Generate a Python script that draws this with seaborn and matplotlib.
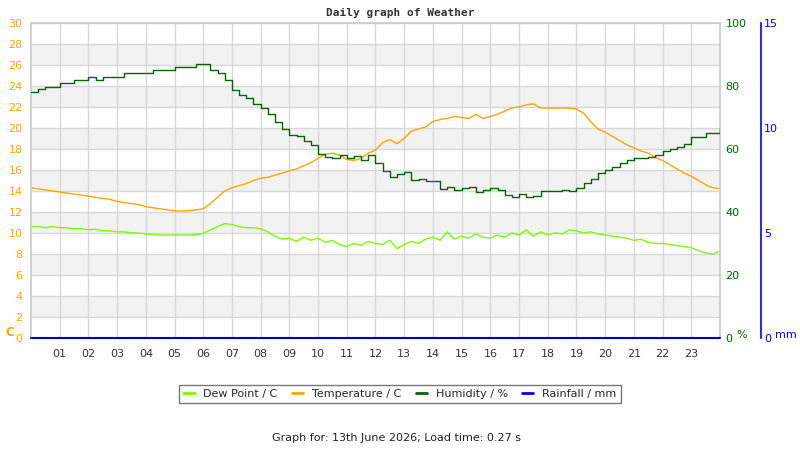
import numpy as np
import pandas as pd
import matplotlib
matplotlib.use('Agg')
import matplotlib.pyplot as plt
import seaborn as sns

# %%
# readings every 15 minutes, 00:00 to 24:00
hours = np.arange(97) / 4

temperature = [14.3, 14.2, 14.1, 14.0, 13.9, 13.8, 13.7, 13.6, 13.5, 13.4, 13.3, 13.2,
               13.0, 12.9, 12.8, 12.7, 12.5, 12.4, 12.3, 12.2, 12.1, 12.1, 12.1, 12.2,
               12.3, 12.8, 13.4, 14.0, 14.3, 14.5, 14.7, 15.0, 15.2, 15.3, 15.5, 15.7,
               15.9, 16.1, 16.4, 16.7, 17.1, 17.5, 17.6, 17.4, 17.0, 16.9, 17.1, 17.6,
               17.9, 18.6, 18.9, 18.5, 19.0, 19.7, 19.9, 20.1, 20.6, 20.8, 20.9, 21.1,
               21.0, 20.9, 21.3, 20.9, 21.1, 21.3, 21.6, 21.9, 22.0, 22.2, 22.3, 21.9,
               21.9, 21.9, 21.9, 21.9, 21.8, 21.4, 20.6, 19.9, 19.6, 19.2, 18.8, 18.4,
               18.1, 17.8, 17.6, 17.2, 16.9, 16.5, 16.1, 15.7, 15.4, 15.0, 14.6, 14.3,
               14.2]

dew_point = [10.6, 10.6, 10.5, 10.6, 10.5, 10.5, 10.4, 10.4, 10.3, 10.35, 10.2, 10.2,
             10.1, 10.1, 10.0, 10.0, 9.9, 9.85, 9.8, 9.8, 9.8, 9.8, 9.8, 9.85,
             9.95, 10.3, 10.6, 10.9, 10.8, 10.6, 10.5, 10.5, 10.4, 10.1, 9.7, 9.4,
             9.5, 9.2, 9.6, 9.3, 9.5, 9.1, 9.3, 8.9, 8.7, 9.0, 8.8, 9.2,
             9.0, 8.9, 9.3, 8.5, 8.9, 9.2, 9.0, 9.4, 9.6, 9.3, 10.1, 9.4,
             9.7, 9.5, 9.9, 9.6, 9.5, 9.8, 9.6, 10.0, 9.8, 10.3, 9.7, 10.1,
             9.8, 10.0, 9.9, 10.3, 10.2, 10.0, 10.1, 9.9, 9.8, 9.7, 9.6, 9.5,
             9.3, 9.4, 9.1, 9.0, 9.0, 8.9, 8.8, 8.7, 8.6, 8.3, 8.1, 8.0,
             8.3]

humidity = [78.0, 79.0, 79.8, 79.8, 80.9, 80.9, 81.9, 81.9, 82.9, 81.9, 82.9, 82.9,
            82.9, 84.0, 84.0, 84.0, 84.0, 85.1, 85.1, 85.1, 85.9, 85.9, 85.9, 86.9,
            86.9, 85.1, 84.0, 81.9, 78.7, 77.1, 76.1, 74.2, 73.1, 71.0, 68.5, 66.2,
            64.4, 64.0, 62.4, 61.3, 58.5, 57.6, 57.0, 58.1, 57.0, 57.8, 56.5, 58.1,
            55.4, 53.0, 51.2, 51.9, 52.8, 50.2, 50.6, 49.9, 49.9, 47.2, 48.0, 47.0,
            47.6, 48.0, 46.4, 47.0, 47.5, 47.0, 45.4, 44.8, 45.6, 44.6, 45.1, 46.8,
            46.8, 46.8, 47.0, 46.8, 47.5, 49.3, 50.6, 52.4, 53.3, 54.2, 55.6, 56.5,
            57.0, 57.0, 57.6, 58.1, 59.5, 60.0, 60.7, 61.5, 63.9, 63.9, 65.0, 65.0,
            66.5]

rain_hours = [0, 24]
rainfall = [0.0, 0.0]

hour_ticks = list(range(1, 24))
hour_labels = ['%02d' % h for h in hour_ticks]

# %%
df = pd.DataFrame({'hour': hours, 'temp': temperature, 'dew': dew_point, 'hum': humidity})
rain = pd.DataFrame({'hour': rain_hours, 'rain': rainfall})

colors = {
    'dew': '#7cfc00',
    'temp': '#ffa500',
    'hum': '#006400',
    'rain': '#0000ff',
}

sns.set_theme(style='white')
plt.rcParams['font.family'] = ['DejaVu Sans']

fig = plt.figure(figsize=(8, 4.5), dpi=100)
ax = fig.add_axes([0.03875, 0.249, 0.86125, 0.7])

# alternating bands + grid
for lo in range(2, 30, 4):
    ax.axhspan(lo, lo + 2, color='#f2f2f2', zorder=0, lw=0)

sns.lineplot(data=df, x='hour', y='temp', ax=ax, color=colors['temp'], lw=1, legend=False)
sns.lineplot(data=df, x='hour', y='dew', ax=ax, color=colors['dew'], lw=1, legend=False)

ax.set_xlim(0, 24)
ax.set_ylim(0, 30)
ax.set_xticks(hour_ticks)
ax.set_xticklabels(hour_labels)
ax.set_yticks(range(0, 31, 2))
ax.set(xlabel='', ylabel='')
ax.grid(True, color='#d8d8d8', lw=1)
ax.set_axisbelow(True)
ax.tick_params(axis='x', length=0, pad=8, labelsize=8, labelcolor='#333333')
ax.tick_params(axis='y', length=0, pad=6, labelsize=8, labelcolor=colors['temp'])
for s in ['left', 'top', 'right']:
    ax.spines[s].set_color('#cccccc')
ax.spines['bottom'].set_visible(False)

# humidity axis
ax_h = ax.twinx()
sns.lineplot(data=df, x='hour', y='hum', ax=ax_h, color=colors['hum'], lw=1,
             drawstyle='steps-post', legend=False)
ax_h.set_ylim(0, 100)
ax_h.set_yticks(range(0, 101, 20))
ax_h.set(xlabel='', ylabel='')
ax_h.tick_params(axis='y', length=0, pad=4, labelsize=8, labelcolor=colors['hum'])
for s in ax_h.spines.values():
    s.set_visible(False)

# rainfall axis
ax_r = ax.twinx()
sns.lineplot(data=rain, x='hour', y='rain', ax=ax_r, color='#0000cc', lw=1.5,
             legend=False, clip_on=False)
ax_r.set_ylim(0, 15)
ax_r.set_yticks([0, 5, 10, 15])
ax_r.set(xlabel='', ylabel='')
ax_r.spines['right'].set_position(('axes', 1.0595))
ax_r.spines['right'].set_color(colors['rain'])
ax_r.spines['right'].set_linewidth(1.2)
for s in ['left', 'top', 'bottom']:
    ax_r.spines[s].set_visible(False)
ax_r.tick_params(axis='y', length=0, pad=2, labelsize=8, labelcolor=colors['rain'])
ax_r.set_xlim(0, 24)

# unit labels
fig.text(5 / 800, 1 - 333 / 450, 'C', color=colors['temp'], fontsize=8.5,
         fontweight='bold', va='center')
fig.text(736 / 800, 1 - 335 / 450, '%', color=colors['hum'], fontsize=8, va='center')
fig.text(775 / 800, 1 - 335 / 450, 'mm', color=colors['rain'], fontsize=8, va='center')

fig.text(0.5, 1 - 13 / 450, 'Daily graph of Weather', family='DejaVu Sans Mono',
         fontweight='bold', fontsize=8, color='#333333', ha='center', va='center')

# legend
leg_colors = [colors['dew'], colors['temp'], colors['hum'], colors['rain']]
handles = [plt.Line2D([], [], color=c, lw=2) for c in leg_colors]
labels = ['Dew Point / C', 'Temperature / C', 'Humidity / %', 'Rainfall / mm']
leg = fig.legend(handles, labels, loc='center', bbox_to_anchor=(0.5, 1 - 394 / 450),
                 ncol=4, fontsize=8, frameon=True, fancybox=False, edgecolor='#777777',
                 handlelength=1.0, columnspacing=1.3, handletextpad=0.8,
                 borderpad=0.4, framealpha=1)
leg.get_frame().set_linewidth(1)

fig.text(396 / 800, 1 - 438 / 450, 'Graph for: 13th June 2026; Load time: 0.27 s',
         fontsize=8, color='#222222', ha='center', va='center')

plt.savefig('out.png', dpi=100)
